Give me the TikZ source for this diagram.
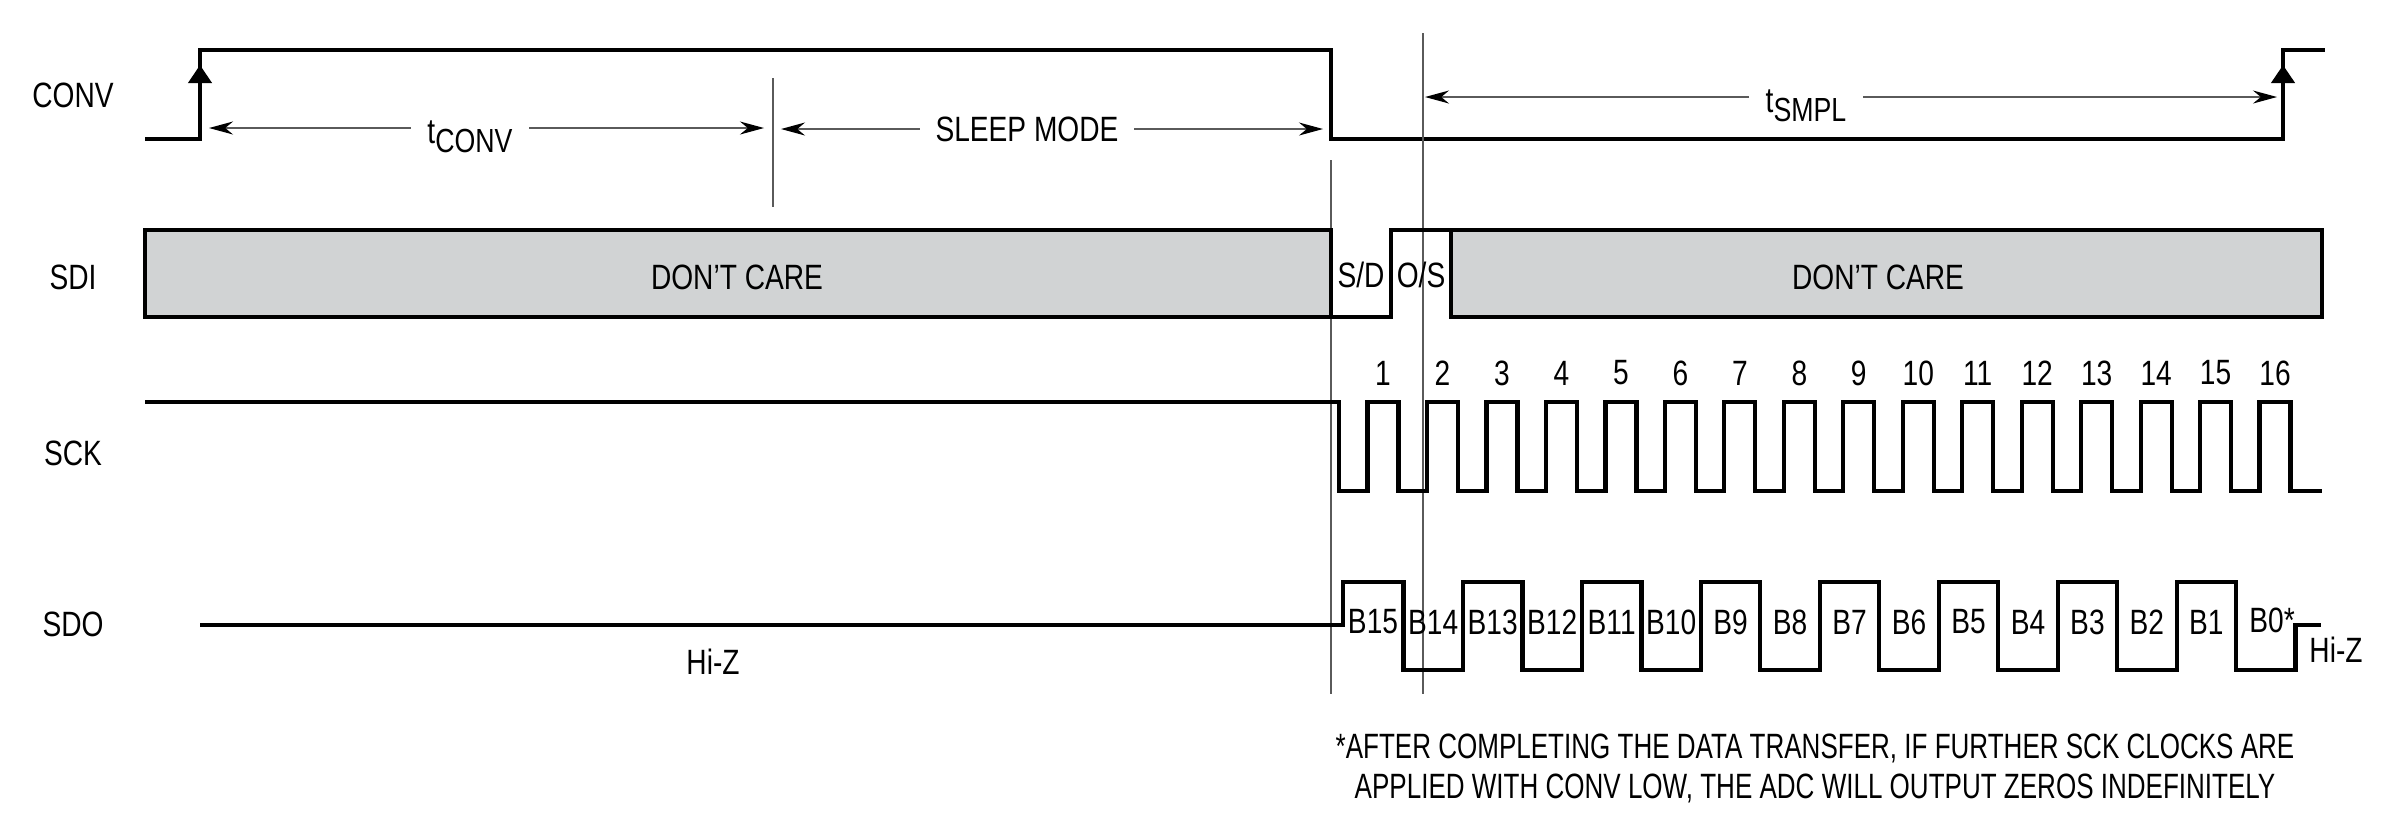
\documentclass[tikz,border=0pt]{standalone}
\usepackage{fontspec}
\setmainfont{Liberation Sans}[FakeStretch=0.8]
\newfontfamily\notefont{Liberation Sans}[FakeStretch=0.74]
\usetikzlibrary{arrows.meta, calc}
\usepackage{xcolor}
\definecolor{CareGray}{HTML}{D1D3D4}
\definecolor{GuideGray}{HTML}{5A5A5A}

\begin{document}
\begin{tikzpicture}[
    x=0.01cm, y=-0.01cm,
    sig/.style={line width=1.2pt, line join=miter, black},
    carebox/.style={sig, fill=CareGray},
    guide/.style={line width=0.4pt, GuideGray},
    dimarr/.style={-{Stealth[length=2.4mm, width=1.3mm, black]}, line width=0.4pt, GuideGray},
    edgearr/.style={-{Triangle[length=1.8mm, width=2.3mm]}, line width=1.2pt},
    lbl/.style={inner sep=0pt},
    dimlbl/.style={inner sep=0pt, inner xsep=1.6mm, anchor=base},
    note/.style={inner sep=0pt, align=center, font=\notefont\fontsize{10}{11.5}\selectfont},
    every node/.style={font=\fontsize{10}{12}\selectfont}
]
\useasboundingbox (0,0) rectangle (2398,826);

% =============================================
% SIGNAL NAMES
% =============================================
\node[lbl] (conv) at (73,95) {CONV};
\node[lbl] (sdi) at (73,277) {SDI};
\node[lbl] (sck) at (73,453) {SCK};
\node[lbl] (sdo) at (73,624) {SDO};

% =============================================
% CONV
% =============================================
\draw[sig] (145,139) -- (200,139) -- (200,50) -- (1331,50) -- (1331,139)
    -- (2283,139) -- (2283,50) -- (2325,50);
\draw[edgearr] (200,110) -- (200,65);
\draw[edgearr] (2283,110) -- (2283,65);

% guide lines
\coordinate (endtick) at (773,78);
\draw[guide] (endtick) -- (773,207);
\draw[guide] (1331,160) -- (1331,694);
\draw[guide] (1423,33) -- (1423,694);

% t_CONV
\node[dimlbl] (tconv) at (470,143) {t\raisebox{-0.27em}{\fontsize{9.5}{10}\selectfont CONV}};
\coordinate (tconvL) at (209,128);
\coordinate (tconvR) at (764,128);
\draw[dimarr] (tconv.west |- tconvL) -- (tconvL);
\draw[dimarr] (tconv.east |- tconvR) -- (tconvR);

% SLEEP MODE
\node[lbl, inner xsep=1.5mm] (sleep) at (1027,129) {SLEEP MODE};
\coordinate (sleepL) at (781,129);
\coordinate (sleepR) at (1323,129);
\draw[dimarr] (sleep.west) -- (sleepL);
\draw[dimarr] (sleep.east) -- (sleepR);

% t_SMPL
\node[dimlbl] (tsmpl) at (1806,112) {t\raisebox{-0.27em}{\fontsize{9.5}{10}\selectfont SMPL}};
\coordinate (tsmplL) at (1425,97);
\coordinate (tsmplR) at (2277,97);
\draw[dimarr] (tsmpl.west |- tsmplL) -- (tsmplL);
\draw[dimarr] (tsmpl.east |- tsmplR) -- (tsmplR);

% =============================================
% SDI
% =============================================
\draw[carebox] (145,230) rectangle (1331,317);
\draw[sig] (1331,317) -- (1391,317) -- (1391,230) -- (1451,230);
\draw[carebox] (1451,230) rectangle (2322,317);
\node[lbl] (care1) at (737,277) {DON’T CARE};
\node[lbl] (care2) at (1878,277) {DON’T CARE};
\node[lbl] (sd) at (1361,275) {S/D};
\node[lbl] (os) at (1421,275) {O/S};

% =============================================
% SCK
% =============================================
\draw[sig] (145,402) -- (1339,402) -- (1339,491) -- (1367.5,491)
    \foreach \k in {1,...,16}{ -- ++(0,-89) -- ++(31,0) -- ++(0,89) -- ++(28.47,0) }
    -- (2322,491);
\foreach \k in {1,...,16}
    \node[lbl] (clk\k) at ({1383+(\k-1)*59.47},373) {\k};

% =============================================
% SDO
% =============================================
\draw[sig] (200,625) -- (1343,625) -- (1343,582)
    \foreach \k in {0,...,6}{ -- ({1403.5+2*\k*59.47},582) -- ++(0,88)
        -- ({1403.5+(2*\k+1)*59.47},670) -- ++(0,-88) }
    -- ({1403.5+14*59.47},582) -- ++(0,88) -- ({1403.5+15*59.47},670)
    -- ++(0,-45) -- (2321,625);
\node[lbl] (b15) at (1373,622) {B15};
\foreach \k in {1,...,14}{
    \pgfmathtruncatemacro\bit{15-\k}
    \node[lbl] (b\bit) at ({1403.5+(\k-0.5)*59.47},622) {B\bit};
}
\node[lbl] (b0) at (2272,620) {B0*};
\node[lbl] (hizL) at (713,662) {Hi-Z};
\node[lbl] (hizR) at (2336,650) {Hi-Z};

% =============================================
% FOOTNOTE
% =============================================
\node[note, anchor=north] (footnote) at (1815,733)
    {*AFTER COMPLETING THE DATA TRANSFER, IF FURTHER SCK CLOCKS ARE\\
     APPLIED WITH CONV LOW, THE ADC WILL OUTPUT ZEROS INDEFINITELY};

\end{tikzpicture}
\end{document}
